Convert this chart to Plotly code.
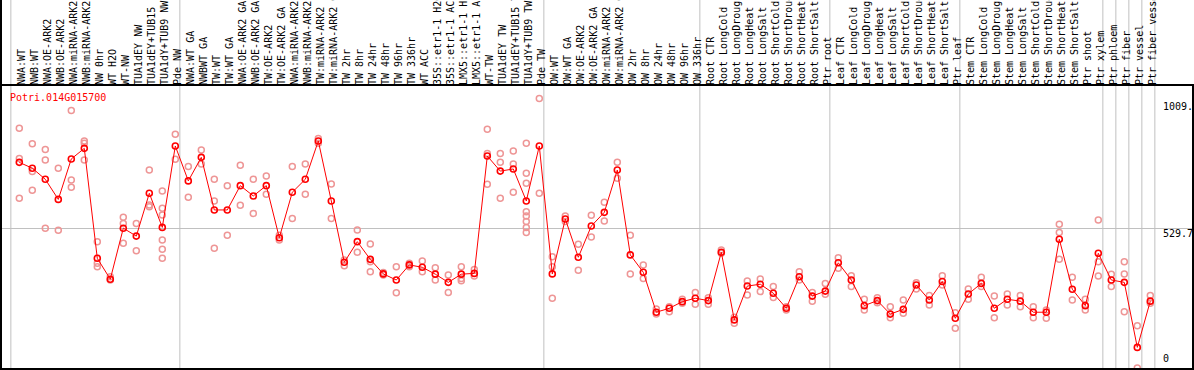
import plotly.graph_objects as go

# ---------------- data ----------------
categories = [
    "NWA:WT", "NWB:WT", "NWA:OE-ARK2", "NWB:OE-ARK2", "NWA:miRNA-ARK2", "NWB:miRNA-ARK2",
    "NW 0hr", "WT H2O", "WT-NW", "TUA1dEY NW", "TUA1dEY+TUB15 NW", "TUA1dY+TUB9 NW", "Pde NW",
    "NWA:WT GA", "NWBWT GA", "TW:WT", "TW:WT GA", "NWA:OE-ARK2 GA", "NWB:OE-ARK2 GA",
    "TW:OE-ARK2", "TW:OE-ARK2 GA", "NWA:miRNA-ARK2 GA", "NWB:miRNA-ARK2 GA", "TW:miRNA-ARK2",
    "TW:miRNA-ARK2 GA", "TW 2hr", "TW 8hr", "TW 24hr", "TW 48hr", "TW 96hr", "TW 336hr", "WT ACC",
    "35S::etr1-1 H2O", "35S::etr1-1 ACC", "LMX5::etr1-1 H2O", "LMX5::etr1-1 ACC", "WT-TW",
    "TUA1dEY TW", "TUA1dEY+TUB15 TW", "TUA1dY+TUB9 TW", "Pde TW",
    "OW:WT", "OW:WT GA", "OW:OE-ARK2", "OW:OE-ARK2 GA", "OW:miRNA-ARK2", "OW:miRNA-ARK2 GA",
    "OW 2hr", "OW 8hr", "OW 24hr", "OW 48hr", "OW 96hr", "OW 336hr",
    "Root CTR", "Root LongCold", "Root LongDrought", "Root LongHeat", "Root LongSalt",
    "Root ShortCold", "Root ShortDrought", "Root ShortHeat", "Root ShortSalt", "Ptr root",
    "Leaf CTR", "Leaf LongCold", "Leaf LongDrought", "Leaf LongHeat", "Leaf LongSalt",
    "Leaf ShortCold", "Leaf ShortDrought", "Leaf ShortHeat", "Leaf ShortSalt", "Ptr leaf",
    "Stem CTR", "Stem LongCold", "Stem LongDrought", "Stem LongHeat", "Stem LongSalt",
    "Stem ShortCold", "Stem ShortDrought", "Stem ShortHeat", "Stem ShortSalt", "Ptr shoot",
    "Ptr xylem", "Ptr phloem", "Ptr fiber", "Ptr vessel", "Ptr fiber vessel",
]

mean_values = [
    778, 756, 714, 638, 791, 831, 415, 336, 529, 499, 661, 532, 840,
    708, 797, 598, 598, 690, 651, 690, 493, 665, 714, 859, 632, 400, 478, 411, 356, 333,
    390, 381, 355, 324, 355, 358, 802, 745, 753, 632, 840,
    356, 564, 419, 537, 589, 749, 428, 362, 211, 226, 251, 264,
    255, 438, 182, 310, 317, 283, 226, 345, 272, 291,
    398, 333, 236, 255, 204, 222, 314, 257, 327, 188,
    280, 320, 226, 260, 253, 211, 211, 487, 298, 236, 434,
    333, 324, 78, 253,
]

replicate_values = [
    [907, 793, 642], [848, 743, 673], [827, 787, 529], [756, 521], [974, 711, 684],
    [859, 850, 787], [478, 396, 383], [345, 333], [570, 547, 472], [547, 444],
    [749, 617, 610], [670, 604, 579, 484, 449, 415], [884, 790],
    [762, 646], [825, 772], [714, 632, 453], [690, 502], [767, 616], [714, 585],
    [726, 657], [502, 484], [762, 566], [772, 657], [868, 850], [696, 566],
    [409, 387], [522, 438], [469, 402, 364], [361, 352], [383, 285],
    [396, 383], [405, 364], [379, 333], [352, 286], [383, 339, 330], [373, 348],
    [903, 812, 695], [812, 778, 642], [821, 772, 665],
    [850, 737, 699, 591, 575, 554, 532, 513], [1020, 661],
    [421, 383, 264], [575, 554], [468, 370], [578, 496], [627, 556], [778, 718],
    [502, 356], [390, 339], [223, 204], [232, 213], [260, 245], [286, 241],
    [266, 241], [446, 434], [192, 169], [329, 276], [337, 289], [308, 267],
    [232, 219], [364, 333], [286, 253], [320, 279],
    [417, 377], [349, 308], [260, 219], [266, 247], [232, 190], [257, 207],
    [323, 299], [274, 238], [349, 314], [209, 150],
    [299, 260], [343, 308], [272, 190], [280, 238], [274, 232], [232, 190],
    [219, 188], [544, 513, 411], [343, 257], [260, 219], [560, 402, 348],
    [355, 308], [402, 356, 213], [160, 0], [274, 245],
]

group_starts = [0, 13, 41, 53, 63, 73, 84, 85, 86, 87, 88]
gene_name = "Potri.014G015700"
y_tick_values = [0, 529.7, 1009.4]
y_tick_text = ["0", "529.7", "1009."]

# ---------------- figure ----------------
W, H = 1194, 370
HEADER = 85
FONT = "DejaVu Sans Mono"
x_idx = list(range(len(categories)))

rep_x, rep_y = [], []
for i, reps in enumerate(replicate_values):
    for v in reps:
        rep_x.append(i)
        rep_y.append(v)

fig = go.Figure()
fig.add_trace(go.Scatter(
    x=rep_x, y=rep_y, mode="markers",
    marker=dict(symbol="circle-open", size=6, color="rgb(238,150,150)",
                line=dict(width=1.5, color="rgb(238,150,150)")),
    hoverinfo="skip", showlegend=False,
))
fig.add_trace(go.Scatter(
    x=x_idx, y=mean_values, mode="lines+markers",
    line=dict(color="red", width=1),
    marker=dict(symbol="circle-open", size=6, color="red",
                line=dict(width=1.6, color="red")),
    showlegend=False,
))

px_per_cat = 13.0
x0_px = 19.3
xr0 = -x0_px / px_per_cat
xr1 = xr0 + W / px_per_cat

units_per_px = 529.7 / 140.0
yr0 = -(H - 368) * units_per_px
yr1 = yr0 + H * units_per_px

shapes = []
for s in group_starts:
    shapes.append(dict(type="line", xref="x", yref="paper", x0=s - 0.65, x1=s - 0.65,
                       y0=2 / H, y1=1, line=dict(color="#c0c0c0", width=1), layer="below"))
# black frame and header separator
shapes += [
    dict(type="line", xref="paper", yref="paper", x0=1 / W, x1=1 / W, y0=0, y1=1,
         line=dict(color="black", width=2)),
    dict(type="line", xref="paper", yref="paper", x0=1193 / W, x1=1193 / W, y0=0,
         y1=(H - HEADER) / H, line=dict(color="black", width=2)),
    dict(type="line", xref="paper", yref="paper", x0=0, x1=1, y0=1 / H, y1=1 / H,
         line=dict(color="black", width=2)),
    dict(type="line", xref="paper", yref="paper", x0=0, x1=1, y0=(H - HEADER) / H,
         y1=(H - HEADER) / H, line=dict(color="black", width=2)),
]

annotations = [
    dict(text=gene_name, xref="paper", yref="paper", x=8 / W, y=(H - 97) / H,
         xanchor="left", yanchor="middle", showarrow=False,
         font=dict(family=FONT, size=10, color="red")),
]
for v, t in zip(y_tick_values, y_tick_text):
    annotations.append(dict(
        text=t, xref="paper", yref="y", x=1161 / W, y=v,
        xanchor="left", yanchor="bottom" if v == 0 else "top", showarrow=False,
        yshift=2,
        font=dict(family=FONT, size=10, color="black")))

fig.update_layout(
    width=W, height=H,
    margin=dict(l=0, r=0, t=0, b=0, pad=0),
    paper_bgcolor="white", plot_bgcolor="white",
    showlegend=False,
    shapes=shapes,
    annotations=annotations,
    xaxis=dict(
        range=[xr0, xr1], tickmode="array", tickvals=x_idx, ticktext=categories,
        tickangle=-90, side="top", anchor="free", position=(H - HEADER) / H,
        showgrid=False, zeroline=False, showline=False, ticks="", automargin=False,
        ticklabelshift=2,
        tickfont=dict(family=FONT, size=10, color="black"),
    ),
    yaxis=dict(
        range=[yr0, yr1], tickmode="array", tickvals=[529.7], showticklabels=False,
        showgrid=True, gridcolor="#c0c0c0", gridwidth=1, zeroline=False, showline=False,
        automargin=False,
    ),
)

fig.write_html(
    "out.html",
    config={"displayModeBar": False},
    post_script="document.body.style.margin='0';document.body.style.padding='0';",
)
